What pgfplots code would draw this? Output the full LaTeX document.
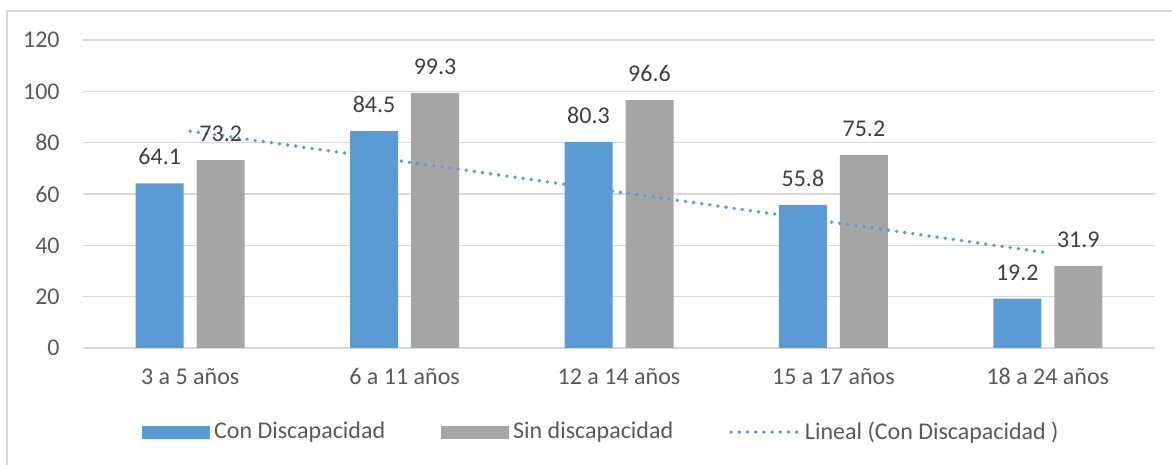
\documentclass[border=0pt]{standalone}
\usepackage{pgfplots}
\pgfplotsset{compat=1.18}
\usepackage{fontspec}
\setmainfont{Carlito}
\definecolor{cblue}{HTML}{5B9BD5}
\definecolor{cgray}{HTML}{A5A5A5}
\definecolor{gridc}{HTML}{D9D9D9}
\definecolor{tickc}{HTML}{595959}
\definecolor{labc}{HTML}{404040}
\begin{document}
\fontsize{12}{14}\selectfont
\begin{tikzpicture}
\useasboundingbox (0,0) rectangle (586pt,232.5pt);
\draw[color=gridc, line width=0.75pt] (3.5pt,-2pt) -- (3.5pt,227pt) -- (590pt,227pt);
\begin{axis}[
  at={(41.5pt,58.5pt)}, anchor=south west,
  scale only axis, width=536pt, height=154pt,
  xmin=0.5, xmax=5.5, ymin=0, ymax=120,
  xtick={1,2,3,4,5},
  xticklabels={3 a 5 años, 6 a 11 años, 12 a 14 años, 15 a 17 años, 18 a 24 años},
  ytick={0,20,40,60,80,100,120},
  ymajorgrids, grid style={gridc, line width=0.75pt},
  axis line style={draw=none},
  major tick length=0pt,
  /pgf/number format/assume math mode=true,
  tick label style={text=tickc, font=\fontsize{12}{14}\selectfont},
  yticklabel style={xshift=-7.5pt},
  xticklabel style={yshift=-6pt},
  clip=false,
  legend columns=3,
  legend style={at={(axis description cs:0.4845,-0.273)}, anchor=center, draw=none, fill=none,
    font=\fontsize{12}{14}\selectfont, text=tickc,
    /tikz/every even column/.append style={column sep=26pt}},
]
\addplot[ybar, bar width=24pt, bar shift=-15.25pt, fill=cblue, draw=none,
  nodes near coords={\pgfmathprintnumber[fixed,precision=1,fixed zerofill]{\pgfplotspointmeta}},
  every node near coord/.append style={text=labc, font=\fontsize{12}{14}\selectfont, yshift=5pt, xshift=-15.25pt},
  legend image code/.code={\fill[cblue] (-1.5pt,-3.25pt) rectangle (32.5pt,3.25pt);}]
  coordinates {(1,64.1) (2,84.5) (3,80.3) (4,55.8) (5,19.2)};
\addlegendentry{Con Discapacidad}
\addplot[ybar, bar width=24pt, bar shift=15.25pt, fill=cgray, draw=none,
  nodes near coords={\pgfmathprintnumber[fixed,precision=1,fixed zerofill]{\pgfplotspointmeta}},
  every node near coord/.append style={text=labc, font=\fontsize{12}{14}\selectfont, yshift=5pt, xshift=15.25pt},
  legend image code/.code={\fill[cgray] (-1.5pt,-3.25pt) rectangle (32.5pt,3.25pt);}]
  coordinates {(1,73.2) (2,99.3) (3,96.6) (4,75.2) (5,31.9)};
\addlegendentry{Sin discapacidad}
\addplot[cblue, line width=1.9pt, line cap=round, dash pattern=on 0pt off 4.1pt,
  legend image code/.code={\draw[cblue, line width=1.9pt, line cap=round, dash pattern=on 0pt off 4.1pt] (-1.5pt,0pt) -- (32.5pt,0pt);}]
  coordinates {(1,84.48) (5,37.08)};
\addlegendentry{Lineal (Con Discapacidad )}
\end{axis}
\end{tikzpicture}
\end{document}
